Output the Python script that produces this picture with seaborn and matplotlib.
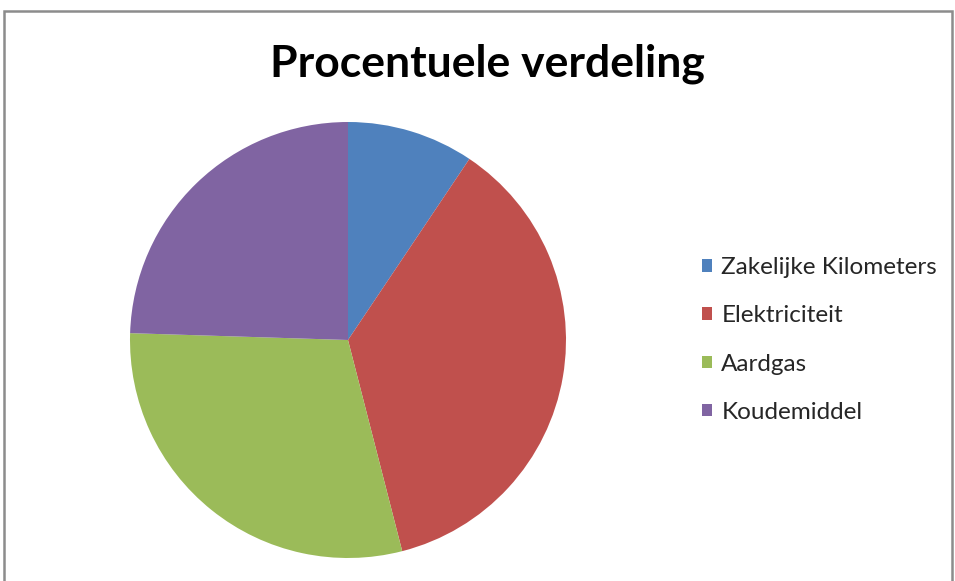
import matplotlib
matplotlib.use("Agg")
import matplotlib.pyplot as plt
import matplotlib.patches as mpatches
import seaborn as sns

# data (percent shares, clockwise from 12 o'clock)
categories = ["Zakelijke Kilometers", "Elektriciteit", "Aardgas", "Koudemiddel"]
shares = [9.4, 36.6, 29.5, 24.5]
colors = ["#4F81BD", "#C0504D", "#9BBB59", "#8064A2"]
title = "Procentuele verdeling"

sns.set_theme(style="white")
plt.rcParams["font.family"] = ["Lato", "DejaVu Sans"]

W, H = 955, 581
fig = plt.figure(figsize=(W / 100, H / 100), dpi=100)
fig.patch.set_facecolor("white")

# outer chart border (bottom runs off the image)
border = mpatches.Rectangle((4 / W, -0.05), 948 / W, 1.05 - 11 / H,
                            transform=fig.transFigure, fill=False,
                            edgecolor="#8c8c8c", linewidth=1.8)
fig.patches.append(border)

# pie axes: centre (348, 340), radius 218 px
cx, cy, r = 348, 340, 218
ax = fig.add_axes([(cx - r) / W, (H - cy - r) / H, 2 * r / W, 2 * r / H])
wedges, _ = ax.pie(shares, colors=colors, startangle=90, counterclock=False,
                   radius=1, wedgeprops=dict(linewidth=0))
ax.set_xlim(-1, 1)
ax.set_ylim(-1, 1)
ax.set_aspect("equal")
ax.axis("off")

fig.text(487 / W, 1 - 64 / H, title, ha="center", va="center",
         fontsize=32, fontweight="bold", color="black")

fig.legend(wedges, categories, loc="center left",
           bbox_to_anchor=(690 / W, 1 - 340 / H), frameon=False,
           fontsize=17.5, handlelength=0.42, handleheight=0.42,
           handletextpad=0.37, labelspacing=1.12, borderpad=0)

fig.savefig("out.png", dpi=100)
